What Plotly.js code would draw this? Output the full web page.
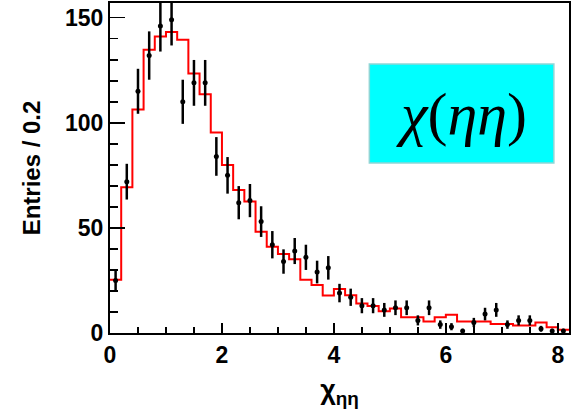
<!DOCTYPE html>
<html>
<head>
<meta charset="utf-8">
<script src="https://cdn.plot.ly/plotly-3.0.1.min.js"></script>
<style>
  html, body { margin: 0; padding: 0; background: #ffffff; }
  #chart { width: 578px; height: 416px; }
</style>
</head>
<body>
<div id="chart"></div>
<script>
// Histogram binning: 41 bins of width 0.2 starting at chi = 0
const binWidth = 0.2;
const nBins = 41;

// Simulated expectation (red step histogram), entries per bin
const mcCounts = [
  25.3, 69.3, 106.3, 134.8, 141.1, 143.2, 139.5, 123.4, 113.6, 95.4,
  79.9, 68.0, 62.6, 48.2, 41.0, 37.6, 35.1, 25.3, 22.8, 17.8,
  20.9, 18.0, 14.0, 12.8, 10.3, 11.6, 7.5, 7.5, 5.5, 7.5,
  8.7, 5.5, 5.5, 5.5, 4.3, 4.3, 3.6, 3.6, 5.0, 2.7,
  1.6
];

// Measured entries per bin (black points)
const dataCounts = [
  25, 72, 115, 132, 146, 149, 110, 119, 119, 84,
  75, 62, 63, 53, 42, 34, 39, 36, 29, 31,
  19, 17, 13, 13, 11, 12, 12, 6, 12, 4,
  3, 1, 5, 9, 11, 4, 6, 6, 2, 1,
  1
];

// Statistical uncertainty on each measured bin
const dataErrors = [
  5.0, 8.5, 10.7, 11.5, 12.1, 12.2, 10.5, 10.9, 10.9, 9.2,
  8.7, 7.9, 7.9, 7.3, 6.5, 5.8, 6.2, 6.0, 5.4, 5.6,
  4.4, 4.1, 3.6, 3.6, 3.3, 3.5, 3.5, 2.4, 3.5, 2.0,
  1.7, 1.0, 2.2, 3.0, 3.3, 2.0, 2.4, 2.4, 1.4, 1.0,
  1.0
];

const xTickVals = [0, 2, 4, 6, 8];
const yTickVals = [0, 50, 100, 150];

// Bin edges and centres derived from the binning
const binEdges = [];
const binCenters = [];
for (let i = 0; i < nBins; i++) {
  binEdges.push(i * binWidth);
  binCenters.push((i + 0.5) * binWidth);
}
binEdges.push(nBins * binWidth);
const stepY = mcCounts.concat([mcCounts[mcCounts.length - 1]]);

// Lower error bars are clipped at zero
const errMinus = dataCounts.map((v, i) => Math.min(v, dataErrors[i]));

const sansBold = 'Liberation Sans, Arial, sans-serif';
const tickFont = { family: sansBold, size: 23, color: '#000000', weight: 700 };

const traces = [
  {
    type: 'scatter',
    mode: 'lines',
    x: binEdges,
    y: stepY,
    line: { shape: 'hv', color: '#ff0000', width: 2 },
    hoverinfo: 'skip',
    showlegend: false
  },
  {
    type: 'scatter',
    mode: 'markers',
    x: binCenters,
    y: dataCounts,
    marker: { color: '#000000', size: 5, symbol: 'circle' },
    error_y: {
      type: 'data',
      symmetric: false,
      array: dataErrors,
      arrayminus: errMinus,
      color: '#000000',
      thickness: 2.5,
      width: 0
    },
    showlegend: false
  }
];

const layout = {
  width: 578,
  height: 416,
  margin: { l: 110, r: 9, t: 3, b: 83 },
  paper_bgcolor: '#ffffff',
  plot_bgcolor: '#ffffff',
  showlegend: false,
  xaxis: {
    range: [0, 8.2],
    tickvals: xTickVals,
    ticktext: xTickVals.map(String),
    ticks: 'inside',
    ticklen: 10,
    tickwidth: 1.5,
    tickcolor: '#000000',
    minor: { dtick: 0.5, ticks: 'inside', ticklen: 6, tickwidth: 1.5, tickcolor: '#000000', showgrid: false },
    showgrid: false,
    zeroline: false,
    showline: true,
    linecolor: '#000000',
    linewidth: 2,
    mirror: true,
    tickfont: tickFont,
    title: {
      text: 'χ<sub>ηη</sub>',
      font: { family: sansBold, size: 27, color: '#000000', weight: 700 },
      standoff: 14
    }
  },
  yaxis: {
    range: [0, 157],
    tickvals: yTickVals,
    ticktext: yTickVals.map(String),
    ticks: 'inside',
    ticklen: 15,
    tickwidth: 1.5,
    tickcolor: '#000000',
    minor: { dtick: 10, ticks: 'inside', ticklen: 8, tickwidth: 1.5, tickcolor: '#000000', showgrid: false },
    showgrid: false,
    zeroline: false,
    showline: true,
    linecolor: '#000000',
    linewidth: 2,
    mirror: true,
    tickfont: tickFont,
    title: {
      text: 'Entries / 0.2',
      font: { family: sansBold, size: 24, color: '#000000', weight: 700 },
      standoff: 18
    }
  },
  shapes: [
    {
      type: 'rect',
      xref: 'paper', yref: 'paper',
      x0: 0.565, x1: 0.967, y0: 0.515, y1: 0.815,
      fillcolor: '#00ffff',
      line: { color: '#8fd6d6', width: 1.5 },
      layer: 'above'
    }
  ],
  annotations: [
    {
      xref: 'paper', yref: 'paper',
      x: 0.766, y: 0.665,
      xanchor: 'center', yanchor: 'middle',
      showarrow: false,
      text: '<i>χ</i>(<i>ηη</i>)',
      font: { family: 'Liberation Serif, Times New Roman, serif', size: 60, color: '#000000' }
    }
  ]
};

Plotly.newPlot('chart', traces, layout, { displayModeBar: false, staticPlot: true });
</script>
</body>
</html>
